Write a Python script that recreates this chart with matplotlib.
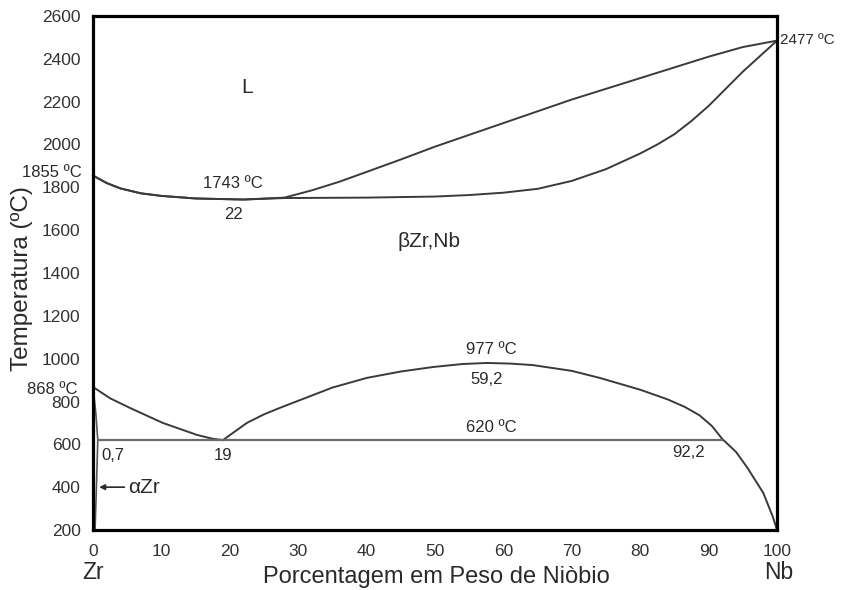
import numpy as np
import matplotlib
matplotlib.use('Agg')
import matplotlib.pyplot as plt

plt.rcParams['font.family'] = ['Liberation Sans', 'DejaVu Sans']

# curva liquidus (x = % Nb, T em ºC)
liq_x = [0, 2, 4, 7, 10, 15, 22, 28, 32, 36, 40, 45, 50, 55, 60, 65, 70, 75, 80, 85, 90, 95, 100]
liq_t = [1855, 1820, 1795, 1772, 1760, 1748, 1743, 1752, 1786, 1826, 1872, 1930, 1990, 2045, 2100, 2155, 2210, 2260, 2310, 2360, 2410, 2455, 2485]

# curva solidus
sol_x = [0, 2, 4, 7, 10, 15, 22, 28, 40, 50, 55, 60, 65, 70, 75, 80, 82.5, 85, 87.5, 90, 95, 100]
sol_t = [1855, 1820, 1795, 1772, 1760, 1748, 1743, 1750, 1752, 1757, 1764, 1775, 1793, 1830, 1885, 1958, 2000, 2048, 2110, 2180, 2340, 2485]

# transus beta / alfa+beta (lado Zr)
tr_x = [0, 2.5, 5.4, 10.2, 15.2, 17.5, 19]
tr_t = [868, 815, 770, 700, 644, 626, 620]

# lacuna de miscibilidade
gap_x = [19, 22.5, 25, 27.3, 30.3, 35, 40, 45, 49.7, 54, 57.6, 61, 64.3, 70, 74.1, 80, 84, 86.5, 88.7, 90.5, 92, 94, 95.6, 98, 99.4, 100]
gap_t = [620, 700, 740, 770, 807, 865, 910, 940, 961, 975, 980, 977, 970, 943, 910, 855, 810, 775, 735, 685, 625, 565, 494, 373, 261, 200]

# solvus alfa Zr
alf_x = [0, 0.4, 0.7, 0.5, 0.3]
alf_t = [868, 750, 620, 400, 200]

# linha do monotetoide
mono_x = [0.7, 92]
mono_t = [620, 620]

yticks = list(range(200, 2601, 200))
xticks = list(range(0, 101, 10))

fig = plt.figure(figsize=(8.46, 5.9), dpi=100)
ax = fig.add_axes([93/846, 1-530/590, 684/846, 514/590])

lc = '#3a3a3a'
for xs, ts in [(liq_x, liq_t), (sol_x, sol_t), (tr_x, tr_t), (gap_x, gap_t)]:
    ax.plot(xs, ts, color=lc, lw=1.4, solid_joinstyle='round', clip_on=False)
ax.plot(alf_x, alf_t, color='#555555', lw=1.2)
ax.plot(mono_x, mono_t, color='#6a6a6a', lw=1.6)

ax.set_xlim(0, 100)
ax.set_ylim(200, 2600)
ax.set_xticks(xticks)
ax.set_yticks(yticks)
ax.tick_params(length=0, labelsize=12.5, labelcolor='#333333')
ax.tick_params(axis='y', pad=9)
ax.tick_params(axis='x', pad=10)
for s in ax.spines.values():
    s.set_linewidth(2.3)
    s.set_color('black')

tc = '#2a2a2a'
fig.text(436/846, 1-577/590, 'Porcentagem em Peso de Niòbio', ha='center', va='center',
         fontsize=17, color=tc)
fig.text(22/846, 1-279/590, 'Temperatura (ºC)', rotation=90, ha='center', va='center',
         fontsize=17.5, color=tc)

ax.text(0, -0.06, 'Zr', transform=ax.transAxes, ha='center', va='top', fontsize=16.5, color=tc)
ax.text(1.003, -0.06, 'Nb', transform=ax.transAxes, ha='center', va='top', fontsize=16.5, color=tc)

# rótulos de fases e pontos
ax.text(22.5, 2264, 'L', ha='center', va='center', fontsize=15, color=tc)
ax.text(49.1, 1545, 'βZr,Nb', ha='center', va='center', fontsize=15, color=tc)
ax.text(20.5, 1820, '1743 ºC', ha='center', va='center', fontsize=12, color=tc)
ax.text(20.5, 1671, '22', ha='center', va='center', fontsize=12, color=tc)
ax.text(-1.6, 1867, '1855 ºC', ha='right', va='center', fontsize=12, color=tc, clip_on=False)
ax.text(-2.3, 858, '868 ºC', ha='right', va='center', fontsize=12, color=tc, clip_on=False)
ax.text(100.5, 2488, '2477 ºC', ha='left', va='center', fontsize=11, color=tc, clip_on=False)
ax.text(58.3, 1041, '977 ºC', ha='center', va='center', fontsize=12, color=tc)
ax.text(57.6, 905, '59,2', ha='center', va='center', fontsize=12, color=tc)
ax.text(58.3, 677, '620 ºC', ha='center', va='center', fontsize=12, color=tc)
ax.text(87.1, 560, '92,2', ha='center', va='center', fontsize=12, color=tc)
ax.text(2.9, 546, '0,7', ha='center', va='center', fontsize=12, color=tc)
ax.text(19, 546, '19', ha='center', va='center', fontsize=12, color=tc)
ax.text(5.2, 400, 'αZr', ha='left', va='center', fontsize=15, color=tc)
ax.annotate('', xy=(0.5, 400), xytext=(5.0, 400),
            arrowprops=dict(arrowstyle='-|>', color=tc, lw=1.2, mutation_scale=8))

fig.savefig('out.png', dpi=100)
